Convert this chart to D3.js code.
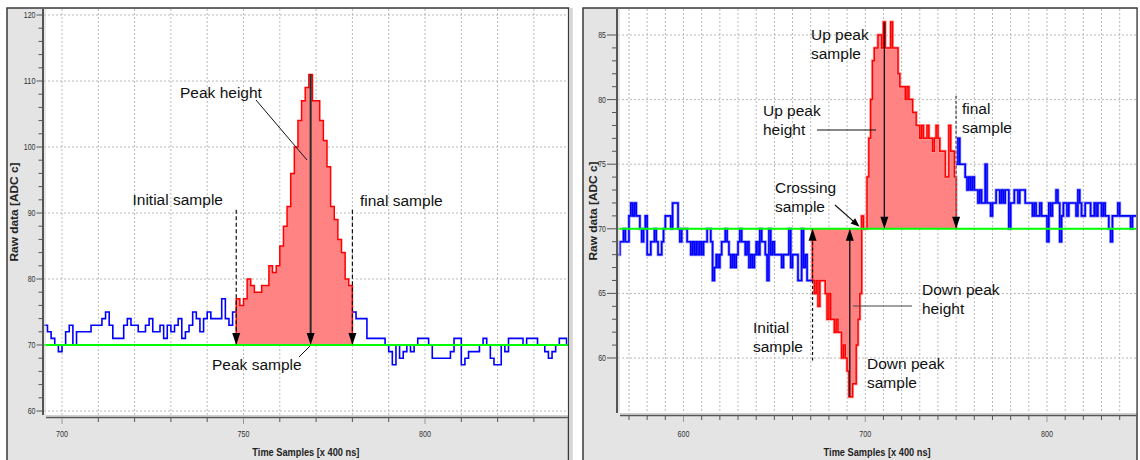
<!DOCTYPE html>
<html>
<head>
<meta charset="utf-8">
<script src="https://cdn.jsdelivr.net/npm/d3@7"></script>
<style>
body { margin: 0; background: #fff; }
svg { display: block; }
</style>
</head>
<body>
<script>
// ---- data (ADC counts per sample) ----
var baseline = 70;

// left: single positive peak
var leftStart = 695;
var leftValues = [
    73,72,71,70,69,70,72,73,70,72, 72,72,72,73,73,73,74,75,73,71,
    71,71,73,74,73,73,72,72,73,74, 72,72,73,71,73,72,73,74,71,72,
    73,75,74,72,74,75,74,74,74,77, 74,73,75,
    77,76,77,80,79,78,78,79,79,82, 81,82,85,88,91,96,100,104,107,109,
    111,107,107,104,101,97,91,89,86,84, 80,79,
    75,74,74,74,71,71,71,71,71,70, 69,67,70,68,69,70,69,70,71,71,
    71,70,68,68,68,68,68,69,71,71, 67,68,69,69,69,70,71,70,68,67,
    67,70,69,71,71,71,71,70,71,71, 71,70,70,69,68,69,70,71,71,70
];
var leftInitial = 748, leftFinal = 779, leftPeak = 768;
var leftXTicks = [700, 750, 800];
var leftYTicks = [60, 70, 80, 90, 100, 110, 120];

// right: bipolar pulse
var rightStart = 564;
var rightValues = [
    68,69,69,70,69,69,71,72,71,72, 71,71,70,69,70,71,68,68,69,69,
    70,69,68,68,69,70,71,71,71,70, 72,72,72,70,69,70,70,70,69,69,
    68,69,68,69,68,69,68,69,69,70, 70,69,66,67,68,67,68,69,69,70,
    69,68,67,68,67,68,69,70,69,69, 68,69,67,68,67,68,69,68,70,69,
    69,68,66,70,68,69,68,68,68,68, 67,68,68,68,70,67,68,68,68,66,
    66,70,67,68,66,66,66,
    66,65,66,64,66,66,66,65,63,65, 63,63,62,63,62,62,60,61,60,59,
    57,57,58,58,61,63,65, 71,70,70,
    74,77,80,83,84,84,85,85,84,86, 84,84,84,86,84,84,84,82,81,81,
    81,80,81,80,80,79,79,78,78,77, 78,77,77,78,77,77,76,77,78,77,
    76,76,76,74,74,78,76,76,74,
    75,77,75,75,75,74,73,74,73,74, 73,73,72,73,72,72,75,72,72,71,
    72,72,73,73,72,73,72,73,73,70, 72,72,73,73,72,73,73,73,72,72,
    72,72,71,72,71,71,72,71,71,71, 69,72,71,72,72,73,72,69,71,72,
    72,71,72,72,72,72,71,73,72,71, 71,72,72,72,71,71,72,71,72,72,
    71,72,71,71,70,69,71,71,71,72, 71,71,71,71,71,71,70,71,71,71
];
var rightInitial = 671, rightFinal = 749, rightCrossing = 698;
var rightUpPeak = 710, rightDownPeak = 691;
var rightXTicks = [600, 700, 800];
var rightYTicks = [60, 65, 70, 75, 80, 85];

var svg = d3.select("body")
    .append("svg")
        .attr("width", 1140)
        .attr("height", 460)
        .style("font-family", "'Liberation Sans', Arial, sans-serif");

// step points for samples from..to, plus a closing point
function stepPoints(values, start, from, to) {
    var pts = [];
    for (var s = from; s <= to; s++) pts.push({s: s, v: values[s - start]});
    pts.push({s: to + 1, v: values[to - start]});
    return pts;
}

function arrow(g, x1, y1, x2, y2, opt) {
    opt = opt || {};
    var len = opt.len || 12, hw = opt.hw || 4;
    var a = Math.atan2(y2 - y1, x2 - x1);
    var bx = x2 - len * Math.cos(a), by = y2 - len * Math.sin(a);
    g.append("line")
        .attr("x1", x1).attr("y1", y1)
        .attr("x2", bx + 2 * Math.cos(a)).attr("y2", by + 2 * Math.sin(a))
        .attr("stroke", opt.color || "#111")
        .attr("stroke-width", opt.width || 1.2)
        .attr("stroke-dasharray", opt.dash || null);
    var px = -Math.sin(a) * hw, py = Math.cos(a) * hw;
    g.append("path")
        .attr("d", "M" + x2 + "," + y2 + "L" + (bx + px) + "," + (by + py) + "L" + (bx - px) + "," + (by - py) + "Z")
        .attr("fill", "#000");
}

function label(g, x, y, lines) {
    lines.forEach(function(t, i) {
        g.append("text")
            .attr("x", x)
            .attr("y", y + i * 19)
            .style("font-size", "15.5px")
            .attr("fill", "#111")
            .text(t);
    });
}

function drawPanel(p) {
    var g = svg.append("g");
    var L = p.plot[0], T = p.plot[1], R = p.plot[2], B = p.plot[3];

    var x = d3.scaleLinear().domain(p.xDomain).range(p.xRange);
    var y = d3.scaleLinear().domain(p.yDomain).range(p.yRange);

    // frame and plot area
    g.append("rect")
        .attr("x", p.frame[0]).attr("y", p.frame[1])
        .attr("width", p.frame[2] - p.frame[0]).attr("height", 480 - p.frame[1])
        .attr("fill", "#e4e4e4")
        .attr("stroke", "#3a3a3a")
        .attr("stroke-width", 1.5);
    g.append("rect")
        .attr("x", L).attr("y", T)
        .attr("width", R - L).attr("height", B - T)
        .attr("fill", "#fff");

    g.append("clipPath").attr("id", p.id)
        .append("rect").attr("x", L).attr("y", T).attr("width", R - L).attr("height", B - T);
    var plot = g.append("g").attr("clip-path", "url(#" + p.id + ")");

    // dashed grid
    var xGrid = d3.range(Math.ceil(p.xVisible[0] / 10) * 10, p.xVisible[1], 10);
    plot.selectAll(".vg").data(xGrid).enter().append("line")
        .attr("x1", function(d) { return x(d); }).attr("x2", function(d) { return x(d); })
        .attr("y1", T).attr("y2", B)
        .attr("stroke", "#b8b8b8").attr("stroke-dasharray", "2,2");
    plot.selectAll(".hg").data(p.yTicks).enter().append("line")
        .attr("x1", L).attr("x2", R)
        .attr("y1", function(d) { return y(d); }).attr("y2", function(d) { return y(d); })
        .attr("stroke", "#b8b8b8").attr("stroke-dasharray", "2,2");

    // red pulse region
    var redPts = stepPoints(p.values, p.start, p.redFrom, p.redTo);
    plot.append("path")
        .datum(redPts)
        .attr("fill", "#ff8383")
        .attr("d", d3.area().curve(d3.curveStepAfter)
            .x(function(d) { return x(d.s); })
            .y0(y(baseline))
            .y1(function(d) { return y(d.v); }));

    var stepLine = d3.line().curve(d3.curveStepAfter)
        .x(function(d) { return x(d.s); })
        .y(function(d) { return y(d.v); });

    var bluePre = stepPoints(p.values, p.start, p.start, p.redFrom - 1);
    var bluePost = stepPoints(p.values, p.start, p.redTo + 1, p.start + p.values.length - 1);
    var redOutline = [{s: p.redFrom, v: baseline}].concat(redPts).concat([{s: p.redTo + 1, v: baseline}]);

    if (p.halo) {
        [bluePre, bluePost].forEach(function(d) {
            plot.append("path").datum(d).attr("fill", "none")
                .attr("stroke", "#9a9aff").attr("stroke-width", 3).attr("d", stepLine);
        });
        plot.append("path").datum(redOutline).attr("fill", "none")
            .attr("stroke", "#ff9a9a").attr("stroke-width", 3).attr("d", stepLine);
    }
    [bluePre, bluePost].forEach(function(d) {
        plot.append("path").datum(d).attr("fill", "none")
            .attr("stroke", "#0000ff").attr("stroke-width", 1.6).attr("d", stepLine);
    });
    plot.append("path").datum(redOutline).attr("fill", "none")
        .attr("stroke", "#ff0000").attr("stroke-width", 1.5).attr("d", stepLine);

    // baseline
    plot.append("line")
        .attr("x1", L).attr("x2", R)
        .attr("y1", y(baseline)).attr("y2", y(baseline))
        .attr("stroke", "#00ff00").attr("stroke-width", 2);

    // axes
    g.append("line").attr("x1", L - 1).attr("x2", L - 1).attr("y1", T).attr("y2", B)
        .attr("stroke", "#555").attr("stroke-width", 2);
    g.append("line").attr("x1", L + 1).attr("x2", L + 1).attr("y1", T).attr("y2", B)
        .attr("stroke", "#cfcfcf").attr("stroke-width", 1);
    g.append("line").attr("x1", L + 2).attr("x2", R).attr("y1", B + 2.5).attr("y2", B + 2.5)
        .attr("stroke", "#555").attr("stroke-width", 1.5);
    g.append("line").attr("x1", L + 2).attr("x2", R).attr("y1", B + 0.5).attr("y2", B + 0.5)
        .attr("stroke", "#d0d0d0").attr("stroke-width", 1);

    // y ticks
    var yMinor = d3.range(p.yTicks[0], p.yTicks[p.yTicks.length - 1] + 0.01, p.yMinorStep)
        .filter(function(d) { return y(d) >= T && y(d) <= B; });
    g.selectAll(".ymt").data(yMinor).enter().append("line")
        .attr("x1", function(d) { return L - 2 - (p.yTicks.indexOf(d) >= 0 ? p.yMajorLen : p.yMinorLen); })
        .attr("x2", L - 2)
        .attr("y1", function(d) { return y(d); }).attr("y2", function(d) { return y(d); })
        .attr("stroke", "#555");
    g.selectAll(".ytl").data(p.yTicks).enter().append("text")
        .attr("x", L - 3 - p.yMajorLen)
        .attr("y", function(d) { return y(d) + 3; })
        .attr("text-anchor", "end")
        .attr("textLength", function(d) { return String(d).length * 3.9; })
        .attr("lengthAdjust", "spacingAndGlyphs")
        .style("font-size", "8.5px")
        .attr("fill", "#333")
        .text(function(d) { return d; });

    // x ticks
    g.selectAll(".xt").data(xGrid).enter().append("line")
        .attr("x1", function(d) { return x(d); }).attr("x2", function(d) { return x(d); })
        .attr("y1", B + 3)
        .attr("y2", function(d) { return B + 3 + (p.xTicks.indexOf(d) >= 0 ? 6 : 4); })
        .attr("stroke", function(d) { return p.xTicks.indexOf(d) >= 0 ? "#999" : "#555"; });
    g.selectAll(".xtl").data(p.xTicks).enter().append("text")
        .attr("x", function(d) { return x(d); })
        .attr("y", 436.5)
        .attr("text-anchor", "middle")
        .attr("textLength", 12)
        .attr("lengthAdjust", "spacingAndGlyphs")
        .style("font-size", "9px")
        .attr("fill", "#333")
        .text(function(d) { return d; });

    // axis titles
    g.append("text")
        .attr("x", (L + R) / 2)
        .attr("y", 455.5)
        .attr("text-anchor", "middle")
        .attr("textLength", 107)
        .attr("lengthAdjust", "spacingAndGlyphs")
        .style("font-size", "11.5px")
        .style("font-weight", "bold")
        .attr("fill", "#222")
        .text("Time Samples [x 400 ns]");
    g.append("text")
        .attr("transform", "translate(" + p.yTitleX + "," + ((T + B) / 2) + ") rotate(-90)")
        .attr("text-anchor", "middle")
        .attr("textLength", 99)
        .attr("lengthAdjust", "spacingAndGlyphs")
        .style("font-size", "11.5px")
        .style("font-weight", "bold")
        .attr("fill", "#222")
        .text("Raw data [ADC c]");

    return {g: g, x: x, y: y};
}

// ---- left panel ----
var left = drawPanel({
    id: "clipL",
    frame: [7, 8, 568.5], plot: [44, 9, 567.7, 415],
    xDomain: [700, 800], xRange: [62, 425], xVisible: [695, 840],
    yDomain: [60, 120], yRange: [411, 15],
    yTicks: leftYTicks, yMinorStep: 2, yMajorLen: 5.5, yMinorLen: 3.5,
    xTicks: leftXTicks, yTitleX: 18.3,
    values: leftValues, start: leftStart, redFrom: leftInitial, redTo: leftFinal
});
svg.append("rect").attr("x", 569.3).attr("y", 8).attr("width", 3.5).attr("height", 452).attr("fill", "#d6d6d6");

(function() {
    var g = left.g, x = left.x, y = left.y;
    arrow(g, x(leftInitial), y(90.5), x(leftInitial), y(baseline), {dash: "4,2.5", hw: 4});
    arrow(g, x(leftFinal + 1), y(90.5), x(leftFinal + 1), y(baseline), {dash: "4,2.5", hw: 4});
    arrow(g, x(leftPeak + 0.5), y(leftValues[leftPeak - leftStart]), x(leftPeak + 0.5), y(baseline),
        {width: 2, color: "#2a2a2a", hw: 4});

    label(g, 180, 98, ["Peak height"]);
    g.append("line").attr("x1", 256).attr("y1", 100).attr("x2", 307).attr("y2", 160).attr("stroke", "#111");
    label(g, 132.5, 205, ["Initial sample"]);
    label(g, 360, 206, ["final sample"]);
    label(g, 212, 370, ["Peak sample"]);
    g.append("line").attr("x1", 299).attr("y1", 357).attr("x2", 310).attr("y2", 346).attr("stroke", "#111");
})();

// ---- right panel ----
var right = drawPanel({
    id: "clipR",
    frame: [583, 8, 1137], plot: [618, 9, 1136.2, 413],
    xDomain: [600, 800], xRange: [683.5, 1047], xVisible: [564, 850],
    yDomain: [60, 85], yRange: [358, 35],
    yTicks: rightYTicks, yMinorStep: 1, yMajorLen: 9, yMinorLen: 4,
    xTicks: rightXTicks, yTitleX: 596.7, halo: true,
    values: rightValues, start: rightStart, redFrom: rightInitial, redTo: rightFinal
});

(function() {
    var g = right.g, x = right.x, y = right.y;
    arrow(g, x(rightUpPeak + 0.5), y(rightValues[rightUpPeak - rightStart]), x(rightUpPeak + 0.5), y(baseline), {width: 1.3});
    arrow(g, x(rightFinal + 1), y(80.3), x(rightFinal + 1), y(baseline), {dash: "3,2", color: "#777", width: 1.8});
    arrow(g, x(rightInitial), y(59.8), x(rightInitial), y(baseline), {dash: "3,2.5"});
    arrow(g, x(rightDownPeak + 0.5), y(rightValues[rightDownPeak - rightStart]), x(rightDownPeak + 0.5), y(baseline), {width: 1.3});
    arrow(g, 835, 205, x(rightCrossing) - 2, y(baseline) - 2, {len: 9, hw: 3.5});

    label(g, 811, 40, ["Up peak", "sample"]);
    label(g, 763, 116, ["Up peak", "height"]);
    g.append("line").attr("x1", 817).attr("y1", 130).attr("x2", 876).attr("y2", 130).attr("stroke", "#111");
    label(g, 775, 193, ["Crossing", "sample"]);
    label(g, 962, 114, ["final", "sample"]);
    label(g, 753, 333, ["Initial", "sample"]);
    label(g, 922, 295, ["Down peak", "height"]);
    g.append("line").attr("x1", 853).attr("y1", 306).attr("x2", 912).attr("y2", 306).attr("stroke", "#444");
    label(g, 867, 369, ["Down peak", "sample"]);
})();
</script>
</body>
</html>
